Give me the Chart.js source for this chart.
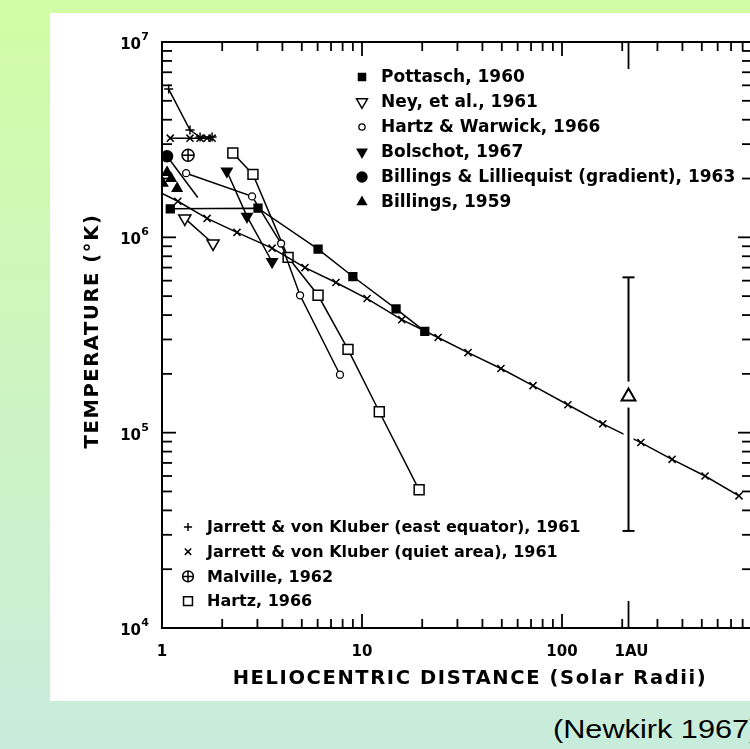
<!DOCTYPE html>
<html>
<head>
<meta charset="utf-8">
<script src="https://cdn.jsdelivr.net/npm/chart.js@4.4.1/dist/chart.umd.min.js"></script>
<style>
  html, body { margin: 0; padding: 0; width: 750px; height: 749px; overflow: hidden; }
  body { position: relative; background: linear-gradient(to bottom, #d3fca6 0%, #c8ecdc 100%); }
  #panel { position: absolute; left: 50px; top: 13px; width: 720px; height: 688px; background: #fff; }
  #src { position: absolute; left: 553px; top: 714px; font: 26px "Liberation Sans", Arial, sans-serif; color: #000;
         white-space: nowrap; transform: scaleX(1.18); transform-origin: left top; }
</style>
</head>
<body>
<div id="panel"><canvas id="chart" width="720" height="688"></canvas></div>
<div id="src">(Newkirk 1967)</div>
<script>
// distances in solar radii, temperatures in K
var pottaschX = [1.10, 3.02, 6.03, 9.0, 14.8, 20.6];
var pottaschT = [1.40e6, 1.41e6, 8.7e5, 6.3e5, 4.3e5, 3.3e5];
var neyX = [1.30, 1.80];
var neyT = [1.25e6, 9.3e5];
var hartzWarwickX = [1.32, 2.82, 3.94, 4.90, 7.76];
var hartzWarwickT = [2.13e6, 1.62e6, 9.3e5, 5.05e5, 1.98e5];
var bolschotX = [2.11, 2.66, 3.55];
var bolschotT = [2.18e6, 1.28e6, 7.5e5];
var gradientX = [1.06, 1.51];
var gradientT = [2.6e6, 1.6e6];
var billingsX = [1.01, 1.06, 1.11, 1.19];
var billingsT = [1.89e6, 2.15e6, 2.0e6, 1.78e6];
var eastX = [1.08, 1.38, 1.55, 1.78];
var eastT = [5.74e6, 3.54e6, 3.26e6, 3.26e6];
var quietX = [1.0, 1.20, 1.68, 2.37, 3.55, 5.19, 7.41, 10.6, 15.8, 24.0, 33.9, 49.5, 71.6, 107, 160, 248, 355, 519, 767];
var quietT = [1.68e6, 1.53e6, 1.25e6, 1.06e6, 8.8e5, 7.0e5, 5.87e5, 4.86e5, 3.79e5, 3.07e5, 2.57e5, 2.13e5, 1.74e5, 1.39e5, 1.11e5, 8.9e4, 7.3e4, 6.0e4, 4.75e4];
var quietInnerX = [1.10, 1.38, 1.55, 1.68, 1.78];
var quietInnerT = [3.22e6, 3.22e6, 3.22e6, 3.22e6, 3.22e6];
var malvilleX = [1.35];
var malvilleT = [2.63e6];
var hartzX = [2.26, 2.85, 4.27, 6.03, 8.51, 12.2, 19.3];
var hartzT = [2.7e6, 2.1e6, 7.9e5, 5.05e5, 2.67e5, 1.28e5, 5.1e4];
var auX = [215];
var auT = [1.53e5];
var auErrHigh = [6.24e5];
var auErrLow = [3.14e4];

// axis ticks and labels
var xMinorTicks = [2, 3, 4, 5, 6, 7, 8, 9, 20, 30, 40, 50, 60, 70, 80, 90, 200, 300, 400, 500, 600, 700, 800];
var xMajorTicks = [10, 100];
var xLabelValues = [1, 10, 100, 215];
var xLabels = ['1', '10', '100', '1AU'];
var yMinorTicks = [2e4, 3e4, 4e4, 5e4, 6e4, 7e4, 8e4, 9e4, 2e5, 3e5, 4e5, 5e5, 6e5, 7e5, 8e5, 9e5,
                   2e6, 3e6, 4e6, 5e6, 6e6, 7e6, 8e6, 9e6];
var yMajorTicks = [1e5, 1e6];
var yLabelValues = [1e4, 1e5, 1e6, 1e7];
var yLabelExponents = ['4', '5', '6', '7'];

function pts(xs, ts) {
    return xs.map(function (x, i) { return { x: x, y: ts[i] }; });
}

function series(label, xs, ts, style) {
    var ds = {
        label: label,
        data: pts(xs, ts),
        showLine: true,
        borderColor: '#000',
        borderWidth: 1.5,
        pointBorderColor: '#000',
        pointBorderWidth: 1.5,
        pointBackgroundColor: '#000',
        pointRotation: 0,
        tension: 0,
        fill: false
    };
    for (var k in style) ds[k] = style[k];
    return ds;
}

// chart.js paints the last dataset first, so the cross of Malville's marker
// sits before its white circle
var datasets = [
    series('Pottasch, 1960', pottaschX, pottaschT, { pointStyle: 'rect', pointRadius: 5.5 }),
    series('Ney, et al., 1961', neyX, neyT, { pointStyle: 'triangle', pointRotation: 180, pointRadius: 7, pointBackgroundColor: '#fff' }),
    series('Hartz & Warwick, 1966', hartzWarwickX, hartzWarwickT, { pointStyle: 'circle', pointRadius: 3.5, pointBackgroundColor: '#fff', pointBorderWidth: 1.3 }),
    series('Bolschot, 1967', bolschotX, bolschotT, { pointStyle: 'triangle', pointRotation: 180, pointRadius: 6 }),
    series('Billings & Lilliequist (gradient), 1963', gradientX, gradientT, { pointStyle: 'circle', pointRadius: [5.5, 0] }),
    series('Billings, 1959', billingsX, billingsT, { pointStyle: 'triangle', pointRadius: 5.5, showLine: false }),
    series('Jarrett & von Kluber (east equator), 1961', eastX, eastT, { pointStyle: 'cross', pointRadius: 4.5 }),
    series('Jarrett & von Kluber (quiet area), 1961', quietX, quietT, {
        pointStyle: 'crossRot',
        pointRadius: quietX.map(function (x, i) { return i === 0 ? 0 : 5; })
    }),
    series('', quietInnerX, quietInnerT, { pointStyle: 'crossRot', pointRadius: 5 }),
    series('', malvilleX, malvilleT, { pointStyle: 'cross', pointRadius: 6, showLine: false }),
    series('Malville, 1962', malvilleX, malvilleT, { pointStyle: 'circle', pointRadius: 6, pointBackgroundColor: '#fff', showLine: false }),
    series('Hartz, 1966', hartzX, hartzT, { pointStyle: 'rect', pointRadius: 7, pointBackgroundColor: '#fff' }),
    series('', auX, auT, { pointStyle: 'triangle', pointRadius: 8, pointBackgroundColor: '#fff', showLine: false, pointBorderWidth: 2 })
];

// legend rows: dataset indexes drawn on top of each other, text from the first
var legendBlocks = [
    { x: 312, y: 64, step: 25, font: 'bold 17px "DejaVu Sans"', rows: [[0], [1], [2], [3], [4], [5]] },
    { x: 138, y: 514, step: 24.7, font: 'bold 16px "DejaVu Sans"', rows: [[6], [7], [10, 9], [11]] }
];

function seg(ctx, x1, y1, x2, y2) {
    ctx.beginPath();
    ctx.moveTo(x1, y1);
    ctx.lineTo(x2, y2);
    ctx.stroke();
}

var errorBarPlugin = {
    id: 'errorBar',
    afterDatasetsDraw: function (chart) {
        var ctx = chart.ctx, xs = chart.scales.x, ys = chart.scales.y;
        var px = xs.getPixelForValue(auX[0]);
        var pTop = ys.getPixelForValue(auErrHigh[0]);
        var pBot = ys.getPixelForValue(auErrLow[0]);
        var pMid = ys.getPixelForValue(auT[0]);
        ctx.save();
        // the quiet-area curve is broken where the bar crosses it
        ctx.strokeStyle = '#fff';
        ctx.lineWidth = 10;
        seg(ctx, px, pMid + 12, px, pBot - 2);
        ctx.strokeStyle = '#000';
        ctx.lineWidth = 2;
        seg(ctx, px, pTop, px, pMid - 15);
        seg(ctx, px, pMid + 11, px, pBot);
        seg(ctx, px - 6, pTop, px + 6, pTop);
        seg(ctx, px - 6, pBot, px + 6, pBot);
        ctx.restore();
    }
};

var axesPlugin = {
    id: 'axesDeco',
    afterDraw: function (chart) {
        var ctx = chart.ctx, a = chart.chartArea;
        var xs = chart.scales.x, ys = chart.scales.y;
        ctx.save();
        ctx.strokeStyle = '#000';
        ctx.fillStyle = '#000';
        ctx.lineWidth = 2;
        ctx.strokeRect(a.left, a.top, a.right - a.left, a.bottom - a.top);

        ctx.lineWidth = 1.8;
        xMinorTicks.forEach(function (v) {
            var p = xs.getPixelForValue(v);
            seg(ctx, p, a.bottom, p, a.bottom - 9);
            seg(ctx, p, a.top, p, a.top + 9);
        });
        xMajorTicks.forEach(function (v) {
            var p = xs.getPixelForValue(v);
            seg(ctx, p, a.bottom, p, a.bottom - 14);
            seg(ctx, p, a.top, p, a.top + 14);
        });
        var pau = xs.getPixelForValue(auX[0]);
        seg(ctx, pau, a.bottom, pau, a.bottom - 27);
        seg(ctx, pau, a.top, pau, a.top + 27);
        yMinorTicks.forEach(function (v) {
            var p = ys.getPixelForValue(v);
            seg(ctx, a.left, p, a.left + 10, p);
            seg(ctx, a.right, p, a.right - 10, p);
        });
        yMajorTicks.forEach(function (v) {
            var p = ys.getPixelForValue(v);
            seg(ctx, a.left, p, a.left + 14, p);
            seg(ctx, a.right, p, a.right - 14, p);
        });

        // tick labels
        ctx.font = 'bold 15px "DejaVu Sans"';
        ctx.textAlign = 'center';
        ctx.textBaseline = 'middle';
        xLabelValues.forEach(function (v, i) {
            var off = xLabels[i] === '1AU' ? 3 : 0;
            ctx.fillText(xLabels[i], xs.getPixelForValue(v) + off, a.bottom + 24);
        });
        yLabelValues.forEach(function (v, i) {
            var p = ys.getPixelForValue(v);
            ctx.textAlign = 'right';
            ctx.font = 'bold 11px "DejaVu Sans"';
            ctx.fillText(yLabelExponents[i], a.left - 13, p - 5);
            ctx.font = 'bold 15px "DejaVu Sans"';
            ctx.fillText('10', a.left - 21, p + 3);
        });

        // axis titles
        ctx.letterSpacing = '1.6px';
        ctx.font = 'bold 19.5px "DejaVu Sans"';
        ctx.textAlign = 'center';
        ctx.fillText('HELIOCENTRIC DISTANCE (Solar Radii)', 420, 666);
        ctx.save();
        ctx.translate(43, 318);
        ctx.rotate(-Math.PI / 2);
        ctx.fillText('TEMPERATURE (°K)', 0, 0);
        ctx.restore();
        ctx.letterSpacing = '0px';

        // legend
        legendBlocks.forEach(function (b) {
            b.rows.forEach(function (row, r) {
                var y = b.y + r * b.step;
                row.forEach(function (idx) {
                    var ds = chart.data.datasets[idx];
                    var rad = Array.isArray(ds.pointRadius) ? ds.pointRadius[0] || ds.pointRadius[1] : ds.pointRadius;
                    ctx.fillStyle = ds.pointBackgroundColor;
                    ctx.strokeStyle = '#000';
                    ctx.lineWidth = ds.pointBorderWidth;
                    Chart.helpers.drawPoint(ctx, {
                        pointStyle: ds.pointStyle,
                        rotation: ds.pointRotation,
                        radius: rad * 0.9,
                        borderWidth: ds.pointBorderWidth
                    }, b.x, y);
                });
                ctx.fillStyle = '#000';
                ctx.font = b.font;
                ctx.textAlign = 'left';
                ctx.textBaseline = 'middle';
                ctx.fillText(chart.data.datasets[row[0]].label, b.x + 19, y + 1);
            });
        });
        ctx.restore();
    }
};

new Chart(document.getElementById('chart'), {
    type: 'line',
    data: { datasets: datasets },
    options: {
        responsive: false,
        animation: false,
        devicePixelRatio: 1,
        events: [],
        layout: { padding: { left: 112, top: 29, right: 18, bottom: 73 } },
        scales: {
            x: { type: 'logarithmic', min: 1, max: 891, display: false },
            y: { type: 'logarithmic', min: 1e4, max: 1e7, display: false }
        },
        plugins: {
            legend: { display: false },
            tooltip: { enabled: false }
        }
    },
    plugins: [errorBarPlugin, axesPlugin]
});
</script>
</body>
</html>
